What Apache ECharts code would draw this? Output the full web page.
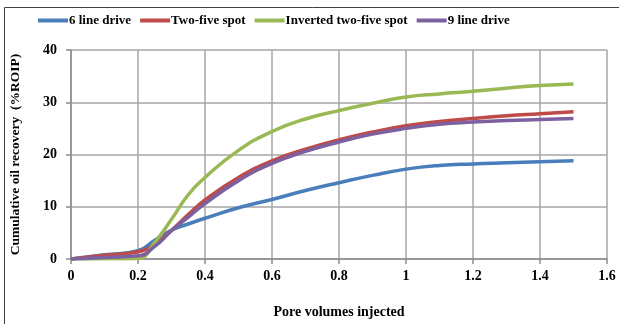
<!DOCTYPE html>
<html><head><meta charset="utf-8">
<script src="https://cdn.jsdelivr.net/npm/echarts@6/dist/echarts.min.js"></script>
<style>html,body{margin:0;padding:0;background:#fff}#c{width:619px;height:324px}</style>
</head><body><div id="c"></div>
<script>
var poreVolumes = [0, 0.1, 0.2, 0.25, 0.3, 0.35, 0.4, 0.5, 0.6, 0.7, 0.8, 0.9, 1.0, 1.1, 1.2, 1.3, 1.4, 1.5];
var sixLineDrive = [0, 0.8, 1.6, 3.6, 5.5, 6.7, 7.8, 9.8, 11.4, 13.1, 14.6, 16.0, 17.2, 17.9, 18.2, 18.4, 18.6, 18.8];
var twoFiveSpot = [0, 0.7, 1.4, 2.8, 5.5, 8.5, 11.3, 15.6, 18.8, 21.0, 22.8, 24.3, 25.5, 26.3, 26.9, 27.4, 27.8, 28.2];
var invertedTwoFiveSpot = [0, 0.05, 0.1, 3.2, 7.6, 12.3, 15.6, 20.8, 24.4, 26.8, 28.4, 29.8, 31.0, 31.6, 32.1, 32.7, 33.2, 33.5];
var nineLineDrive = [0, 0.3, 0.6, 2.4, 5.4, 8.0, 10.6, 15.0, 18.3, 20.6, 22.4, 23.9, 25.0, 25.8, 26.2, 26.5, 26.7, 26.9];
var seriesNames = ['6 line drive', 'Two-five spot', 'Inverted two-five spot', '9 line drive'];
var seriesColors = ['#4a7ebb', '#be4b48', '#98b954', '#7d60a0'];
var xTicks = [0, 0.2, 0.4, 0.6, 0.8, 1, 1.2, 1.4, 1.6];
var yTicks = [0, 10, 20, 30, 40];

function pairs(ys){ return poreVolumes.map(function(x,i){return [x, ys[i]];}); }
var allData = [sixLineDrive, twoFiveSpot, invertedTwoFiveSpot, nineLineDrive];
var font = "'Liberation Serif', 'Times New Roman', serif";
var chart = echarts.init(document.getElementById('c'));
chart.setOption({
  animation: false,
  textStyle: {fontFamily: font, fontWeight: 'bold', color: '#000'},
  graphic: [{type:'rect', shape:{x:4.5, y:7.5, width:700, height:400}, style:{fill:'none', stroke:'#404040', lineWidth:1}, silent:true}],
  legend: {
    top: 9, left: 33, itemWidth: 30, itemHeight: 4, itemGap: 9,
    icon: 'rect',
    textStyle: {fontFamily: font, fontWeight: 'bold', fontSize: 13, color: '#000', padding:[0,0,0,-4]},
    data: seriesNames
  },
  grid: {left: 71, right: 12, top: 50, bottom: 64},
  xAxis: {
    type: 'value', min: 0, max: 1.6, interval: 0.2,
    name: 'Pore volumes injected', nameLocation: 'middle', nameGap: 46,
    nameTextStyle: {fontFamily: font, fontWeight: 'bold', fontSize: 14, color: '#000'},
    axisLine: {lineStyle: {color: '#8c8c8c', width: 1.5}},
    axisTick: {show: true, length: 5, lineStyle: {color: '#8c8c8c', width: 1.5}},
    axisLabel: {fontFamily: font, fontWeight: 'bold', fontSize: 14, color: '#000', margin: 10,
      formatter: function(v){ var t = xTicks.filter(function(a){return Math.abs(a-v)<1e-6;}); return t.length? String(t[0]) : ''; }},
    splitLine: {show: true, lineStyle: {color: '#a6a6a6', width: 1.5}}
  },
  yAxis: {
    type: 'value', min: 0, max: 40, interval: 10,
    name: 'Cumulative oil recovery  (%ROIP)', nameLocation: 'middle', nameGap: 48,
    nameTextStyle: {fontFamily: font, fontWeight: 'bold', fontSize: 13.5, color: '#000'},
    axisLine: {show: true, lineStyle: {color: '#8c8c8c', width: 1.5}},
    axisTick: {show: true, length: 5, lineStyle: {color: '#8c8c8c', width: 1.5}},
    axisLabel: {fontFamily: font, fontWeight: 'bold', fontSize: 14, color: '#000', margin: 14,
      formatter: function(v){ return yTicks.indexOf(v) >= 0 ? String(v) : ''; }},
    splitLine: {show: true, lineStyle: {color: '#a6a6a6', width: 1.5}}
  },
  series: seriesNames.map(function(n, i){
    return {name: n, type: 'line', data: pairs(allData[i]), smooth: 0.5,
      showSymbol: false, symbol: 'none', color: seriesColors[i],
      lineStyle: {width: 3.5, color: seriesColors[i]}};
  })
});
</script></body></html>
